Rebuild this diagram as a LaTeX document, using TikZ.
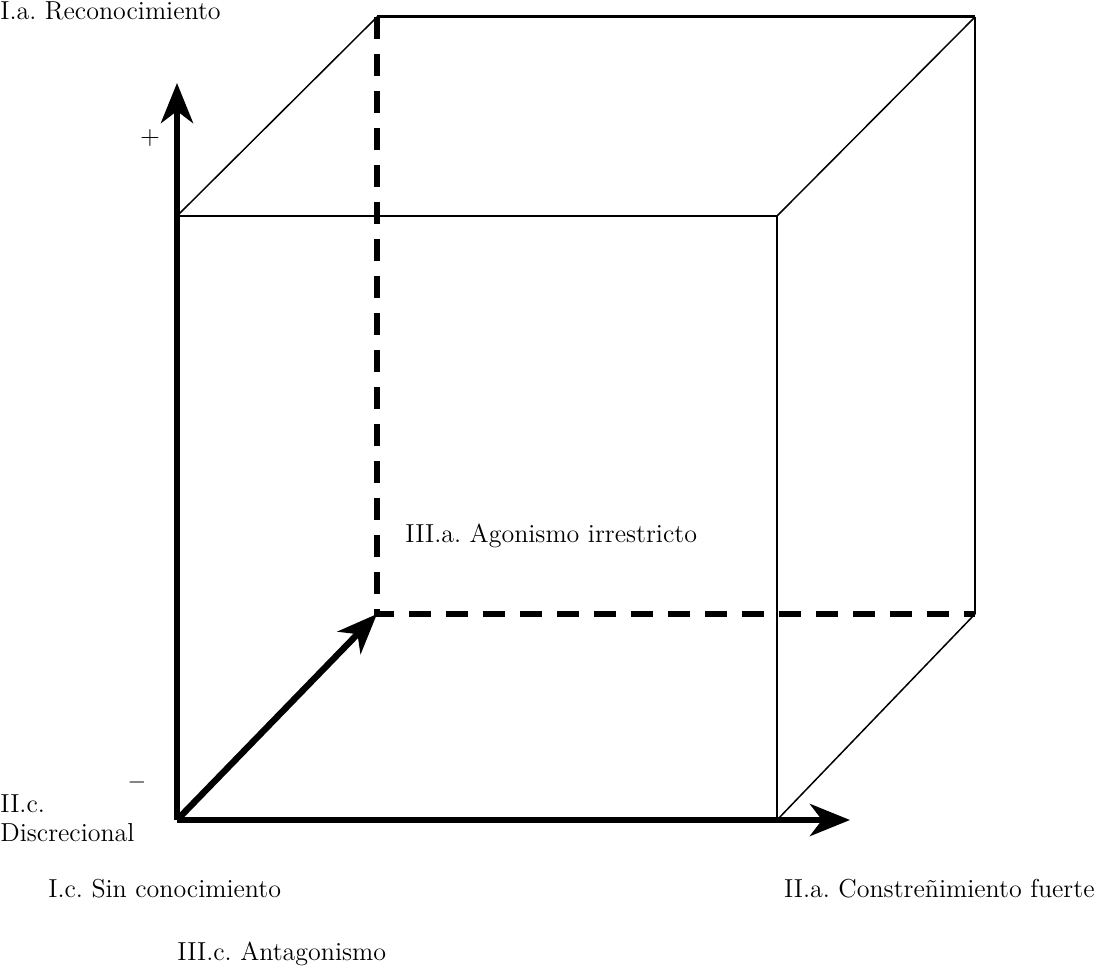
\documentclass[tikz,border=0pt]{standalone}
\usepackage{tikz}
\usetikzlibrary{arrows.meta}
\frenchspacing
\tikzset{
  arista/.style={line width=0.75pt},
  aristaf/.style={line width=1.5pt},
  eje/.style={line width=3.2pt, -{Stealth[length=20pt,width=16pt,inset=6pt]}},
  oculta/.style={line width=3.2pt, dash pattern=on 11pt off 7.5pt},
  etq/.style={inner sep=0pt, font=\fontsize{13}{14.5}\selectfont, align=left},
}

\begin{document}
\begin{tikzpicture}[x=0.5pt, y=-0.5pt]
  \useasboundingbox (0,0) rectangle (1095,967);
  % vertices del cubo
  \coordinate (o)  at (177,820);
  \coordinate (fa) at (177,216);
  \coordinate (fb) at (777,216);
  \coordinate (fc) at (777,820);
  \coordinate (b0) at (377,614);
  \coordinate (ba) at (377,17);
  \coordinate (bb) at (975,17);
  \coordinate (bc) at (975,614);
  \coordinate (ey) at (177,83);
  \coordinate (ex) at (850,820);
  % aristas
  \draw[arista] (fa) -- (fb) -- (fc);
  \draw[arista] (fa) -- (ba);
  \draw[arista] (fb) -- (bb);
  \draw[arista] (fc) -- (bc);
  \draw[arista] (bb) -- (bc);
  \draw[aristaf] (ba) -- (bb);
  \draw[oculta] (ba) -- (b0) -- (bc);
  % ejes
  \draw[eje] (o) -- (ey);
  \draw[eje] (o) -- (ex);
  \draw[eje] (o) -- (b0);
  % etiquetas
  \node[etq, anchor=base west] (reco) at (0,20) {I.a. Reconocimiento};
  \node[etq] (mas) at (150,138) {+};
  \node[etq] (menos) at (137,782) {$-$};
  \node[etq, anchor=base west] (disc) at (0,841) {II.c.\\Discrecional};
  \node[etq, anchor=base west] (sinc) at (48,897) {I.c. Sin conocimiento};
  \node[etq, anchor=base west] (anta) at (177,960) {III.c. Antagonismo};
  \node[etq, anchor=base east] (cons) at (1095,897) {II.a. Constreñimiento fuerte};
  \node[etq, anchor=base west] (agon) at (405,542) {III.a. Agonismo irrestricto};
\end{tikzpicture}
\end{document}
